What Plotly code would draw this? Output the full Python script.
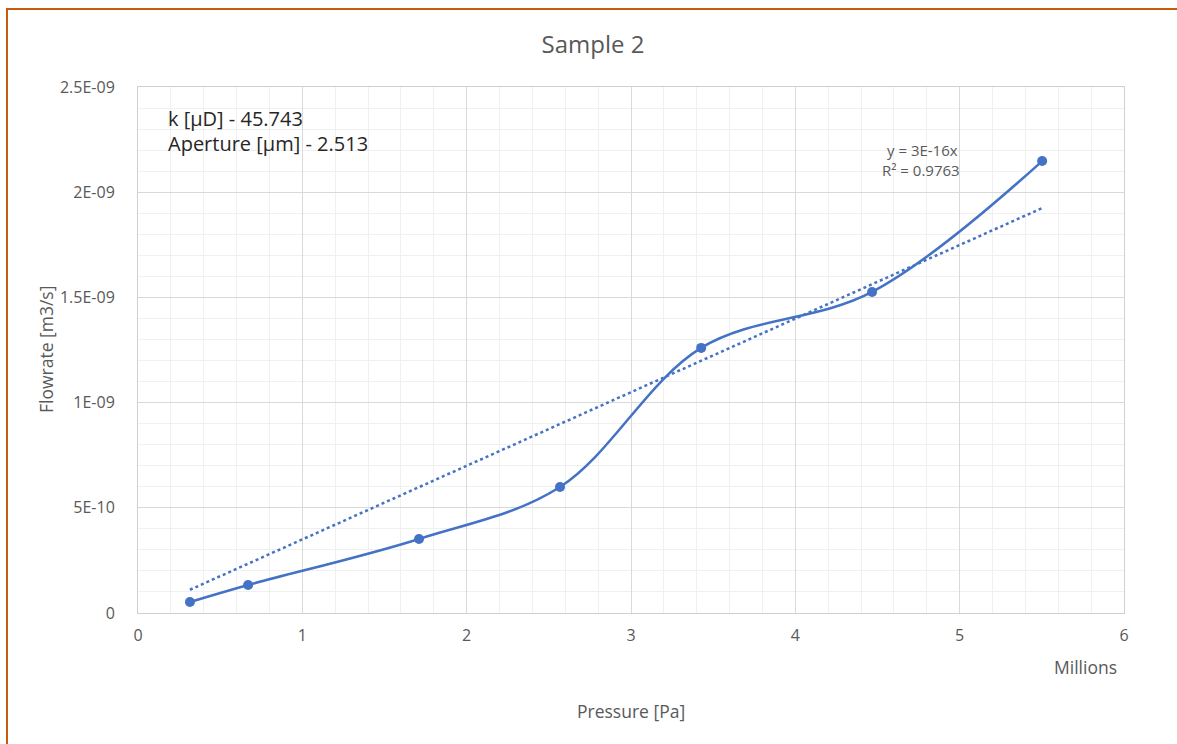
import numpy as np
import plotly.graph_objects as go

# Data
pressure_millions = [0.316, 0.67, 1.71, 2.568, 3.427, 4.467, 5.502]
flowrate = [5.2e-11, 1.33e-10, 3.52e-10, 5.99e-10, 1.26e-09, 1.526e-09, 2.148e-09]
x_tick_vals = [0, 1, 2, 3, 4, 5, 6]
x_tick_text = ["0", "1", "2", "3", "4", "5", "6"]
y_tick_vals = [0, 5e-10, 1e-09, 1.5e-09, 2e-09, 2.5e-09]
y_tick_text = ["0", "5E-10", "1E-09", "1.5E-09", "2E-09", "2.5E-09"]

pressure = [p * 1e6 for p in pressure_millions]
xa = np.array(pressure)
ya = np.array(flowrate)
slope = float((xa * ya).sum() / (xa * xa).sum())
trend_x = [min(pressure), max(pressure)]
trend_y = [slope * v for v in trend_x]

BLUE = "#4472C4"
GREY = "#595959"
FONT = "Open Sans, sans-serif"

fig = go.Figure()
fig.add_trace(go.Scatter(x=pressure, y=flowrate, mode="lines+markers",
                         line=dict(color=BLUE, width=2.5, shape="spline", smoothing=1.0),
                         marker=dict(color=BLUE, size=10), showlegend=False))
fig.add_trace(go.Scatter(x=trend_x, y=trend_y, mode="lines",
                         line=dict(color=BLUE, width=2.5, dash="dot"), showlegend=False))

W, H = 1177, 744
L, R, T, B = 138, 1124, 87, 613
pw, ph = R - L, B - T

def px(xp):
    return (xp - L) / pw

def py(yp):
    return (B - yp) / ph

fig.update_layout(
    width=W, height=H,
    margin=dict(l=L, r=W - R, t=T, b=H - B),
    paper_bgcolor="white", plot_bgcolor="white",
    font=dict(family=FONT, color=GREY, size=16),
    title=dict(text="Sample 2", xref="container", x=593 / W, xanchor="center",
               yref="container", y=1 - 45 / H, yanchor="middle",
               font=dict(size=24, color=GREY, family=FONT)),
    xaxis=dict(range=[0, 6e6], tickvals=[v * 1e6 for v in x_tick_vals], ticktext=x_tick_text,
               showgrid=True, gridcolor="#d9d9d9", gridwidth=1,
               minor=dict(dtick=2e5, showgrid=True, gridcolor="#f0f0f0", gridwidth=1),
               showline=True, linecolor="#d0d0d0", linewidth=1, mirror=True,
               zeroline=False, ticks="", ticklabelstandoff=8,
               tickfont=dict(size=16, color=GREY)),
    yaxis=dict(range=[0, 2.5e-9], tickvals=y_tick_vals, ticktext=y_tick_text,
               showgrid=True, gridcolor="#d9d9d9", gridwidth=1,
               minor=dict(dtick=1e-10, showgrid=True, gridcolor="#f0f0f0", gridwidth=1),
               showline=True, linecolor="#d0d0d0", linewidth=1, mirror=True,
               zeroline=False, ticks="", ticklabelstandoff=19,
               tickfont=dict(size=16, color=GREY)),
)

annotations = [
    dict(text="Flowrate [m3/s]", x=px(46), y=py(350), textangle=-90, font=dict(size=17.5, color=GREY)),
    dict(text="Pressure [Pa]", x=px(631), y=py(711), font=dict(size=17.5, color=GREY)),
    dict(text="Millions", x=px(1085), y=py(667), font=dict(size=17.5, color=GREY)),
    dict(text="k [µD] - 45.743", x=px(166), y=py(118), xanchor="left", font=dict(size=20, color="#262626")),
    dict(text="Aperture [µm] - 2.513", x=px(166), y=py(143), xanchor="left", font=dict(size=20, color="#262626")),
    dict(text="y = 3E-16x", x=px(922), y=py(150), font=dict(size=15, color=GREY)),
    dict(text="R² = 0.9763", x=px(921), y=py(170), font=dict(size=15, color=GREY)),
]
for a in annotations:
    a.update(xref="paper", yref="paper", showarrow=False)
    a.setdefault("xanchor", "center")
    a.setdefault("yanchor", "middle")
    fig.add_annotation(**a)

fig.add_shape(type="rect", xref="paper", yref="paper",
              x0=px(7), x1=px(1190), y0=py(760), y1=py(9),
              line=dict(color="#C55A11", width=2), fillcolor="rgba(0,0,0,0)", layer="above")

fig.write_html("out.html")
